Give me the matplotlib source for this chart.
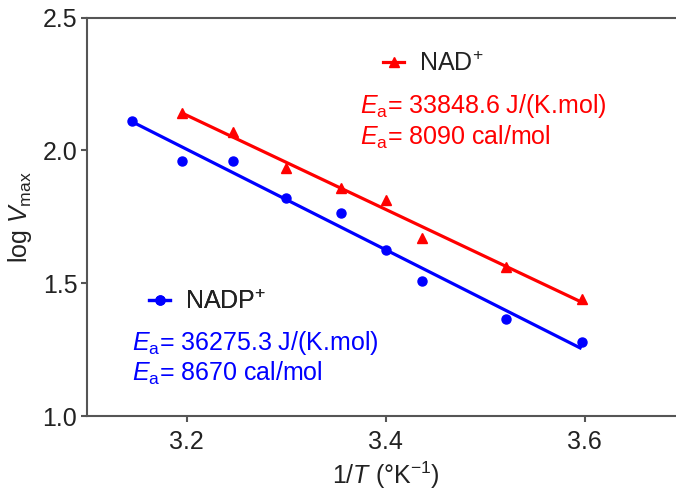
import numpy as np
import matplotlib
matplotlib.use("Agg")
import matplotlib.pyplot as plt
from matplotlib.lines import Line2D

# Arrhenius data: 1000/T (K^-1) vs log Vmax
nad_x = [3.195, 3.247, 3.300, 3.355, 3.401, 3.437, 3.521, 3.597]
nad_y = [2.142, 2.068, 1.932, 1.857, 1.813, 1.669, 1.562, 1.441]
nadp_x = [3.145, 3.195, 3.247, 3.300, 3.355, 3.401, 3.437, 3.521, 3.597]
nadp_y = [2.110, 1.961, 1.961, 1.820, 1.765, 1.625, 1.508, 1.365, 1.280]

nad_ea = ["33848.6 J/(K.mol)", "8090 cal/mol"]
nadp_ea = ["36275.3 J/(K.mol)", "8670 cal/mol"]

RED, BLUE = "#ff0000", "#0000ff"
FS = 18
LW = 2.3

plt.rcParams["font.family"] = ["Liberation Sans", "DejaVu Sans"]
plt.rcParams["mathtext.fontset"] = "custom"
plt.rcParams["mathtext.rm"] = "Liberation Sans"
plt.rcParams["mathtext.it"] = "Liberation Sans:italic"
plt.rcParams["mathtext.bf"] = "Liberation Sans:bold"

W, H = 676, 497
fig = plt.figure(figsize=(W / 100, H / 100), dpi=100)
ax = fig.add_axes([87 / W, (H - 416) / H, 597 / W, 398.5 / H])

def fit_line(x, y):
    k, b = np.polyfit(x, y, 1)
    xs = np.array([min(x), max(x)])
    return xs, k * xs + b

for x, y, c, m, ms in [(nad_x, nad_y, RED, "^", 7), (nadp_x, nadp_y, BLUE, "o", 6.5)]:
    xs, ys = fit_line(x, y)
    ax.plot(xs, ys, color=c, lw=LW, solid_capstyle="butt", zorder=2)
    ax.plot(x, y, ls="none", marker=m, ms=ms, color=c, mec=c, zorder=3)

ax.set_xlim(3.1, 3.7)
ax.set_ylim(1.0, 2.5)
ax.set_xticks([3.2, 3.4, 3.6])
ax.set_yticks([1.0, 1.5, 2.0, 2.5])
ax.set_xticklabels(["3.2", "3.4", "3.6"])
ax.set_yticklabels(["1.0", "1.5", "2.0", "2.5"])

for s in ax.spines.values():
    s.set_color("#555555")
    s.set_linewidth(1.5)
ax.spines["right"].set_visible(False)
ax.tick_params(axis="both", direction="out", length=4, width=1.5,
               color="#555555", labelsize=FS, labelcolor="#222222")
ax.tick_params(axis="x", pad=6)
ax.tick_params(axis="y", pad=3)

ax.set_xlabel(r"1/$\mathit{T}$ (°K$^{\mathrm{-1}}$)", fontsize=FS, color="#222222", labelpad=4)
ax.set_ylabel(r"log $\mathit{V}_{\mathrm{max}}$", fontsize=FS, color="#222222", labelpad=6)

# series keys
def key(handle, label, x0, yc):
    leg = ax.legend(handles=[handle], labels=[label], loc="center left",
                    bbox_to_anchor=(x0 / W, (H - yc) / H), bbox_transform=fig.transFigure,
                    frameon=False, borderpad=0, borderaxespad=0, handlelength=0.85,
                    handletextpad=0.6, numpoints=1, fontsize=FS)
    for t in leg.get_texts():
        t.set_color("#222222")
    ax.add_artist(leg)

key(Line2D([], [], color=RED, lw=LW, marker="^", ms=7), r"NAD$^{+}$", 383, 64)
key(Line2D([], [], color=BLUE, lw=LW, marker="o", ms=6.5), r"NADP$^{+}$", 149, 302)

for vals, c, x0, bases in [(nad_ea, RED, 360, [113, 145]), (nadp_ea, BLUE, 132, [350, 381])]:
    for v, yb in zip(vals, bases):
        fig.text(x0 / W, (H - yb) / H, r"$\mathit{E}_{\mathrm{a}}$= " + v,
                 color=c, fontsize=FS, va="baseline", ha="left")

fig.savefig("out.png", dpi=100)
